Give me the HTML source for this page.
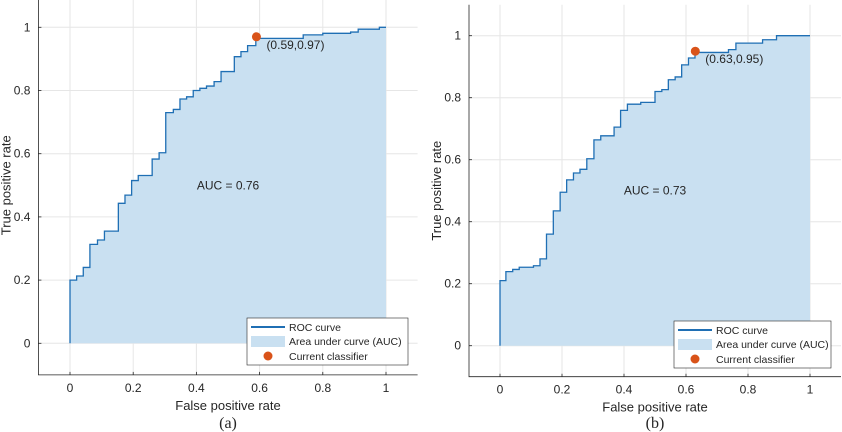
<!DOCTYPE html>
<html><head><meta charset="utf-8"><style>
html,body{margin:0;padding:0;background:#fff;width:842px;height:432px;overflow:hidden}
svg text{font-family:"Liberation Sans",sans-serif;fill:#262626}
</style></head><body>
<svg id="chart" width="842" height="432" viewBox="0 0 842 432" xmlns="http://www.w3.org/2000/svg"></svg>
<script>
// Panel (a) data: step points (fpr, tpr after jump)
const fprA = [0,0.021,0.042,0.063,0.087,0.109,0.153,0.174,0.195,0.216,0.26,0.282,0.303,0.327,0.348,0.369,0.39,0.411,0.432,0.456,0.478,0.52,0.541,0.562,0.588,0.738,0.80,0.888,0.912,0.979,1.0];
const tprA = [0.2,0.213,0.24,0.313,0.327,0.355,0.443,0.469,0.515,0.531,0.583,0.603,0.73,0.74,0.773,0.78,0.80,0.807,0.814,0.828,0.86,0.907,0.923,0.942,0.965,0.976,0.981,0.985,0.994,1.0,1.0];
const opA = [0.59,0.97];
const aucA = "0.76";
// Panel (b) data
const fprB = [0,0.019,0.041,0.062,0.108,0.129,0.15,0.172,0.194,0.215,0.237,0.258,0.28,0.303,0.325,0.368,0.389,0.411,0.454,0.5,0.522,0.543,0.565,0.586,0.608,0.629,0.737,0.761,0.847,0.892,1.0];
const tprB = [0.21,0.239,0.246,0.253,0.258,0.28,0.36,0.435,0.495,0.535,0.557,0.569,0.603,0.664,0.677,0.705,0.759,0.779,0.785,0.82,0.826,0.858,0.867,0.906,0.928,0.946,0.955,0.976,0.987,1.0,1.0];
const opB = [0.63,0.95];
const aucB = "0.73";
const ticks = [0,0.2,0.4,0.6,0.8,1];
const tickLabels = ["0","0.2","0.4","0.6","0.8","1"];

const NS="http://www.w3.org/2000/svg";
const svg=document.getElementById('chart');
function mk(tag,attrs,parent,text){const e=document.createElementNS(NS,tag);for(const k in attrs)e.setAttribute(k,attrs[k]);if(text!==undefined)e.textContent=text;(parent||svg).appendChild(e);return e;}

function panel(id,x0,y0,s,fpr,tpr,op,auc,cap,leg){
  const sx=v=>x0+v*s, sy=v=>y0-v*s;
  const g=mk('g',{});
  
  
  const L=sx(-0.1),R=sx(1.1),B=sy(-0.1),T=Math.max(sy(1.1),0);
  // grid
  ticks.forEach((t,i)=>{
    const gx=mk('line',{x1:sx(t),x2:sx(t),y1:T,y2:B,stroke:'#e6e6e6','stroke-width':1},g);
    
    const gy=mk('line',{x1:L,x2:R,y1:sy(t),y2:sy(t),stroke:'#e6e6e6','stroke-width':1},g);
    
  });
  // area + curve
  let d=`M${sx(0)},${sy(0)}`; let prevY=0;
  for(let i=0;i<fpr.length;i++){d+=` L${sx(fpr[i])},${sy(prevY)} L${sx(fpr[i])},${sy(tpr[i])}`;prevY=tpr[i];}
  const area=mk('path',{d:d+` L${sx(1)},${sy(0)} Z`,fill:'#c9e0f1',stroke:'none'},g);
  
  const line=mk('path',{d:d,fill:'none',stroke:'#1f6fb4','stroke-width':1.3},g);
  
  // axes
  const ax=mk('path',{d:`M${L},${T} L${L},${B} L${R},${B}`,fill:'none',stroke:'#262626','stroke-width':0.8},g);
  
  ticks.forEach((t,i)=>{
    mk('line',{x1:sx(t),x2:sx(t),y1:B,y2:B-3,stroke:'#262626','stroke-width':0.8},g);
    mk('line',{x1:L,x2:L+3,y1:sy(t),y2:sy(t),stroke:'#262626','stroke-width':0.8},g);
    const xl=mk('text',{x:sx(t),y:B+17,'text-anchor':'middle','font-size':12},g,tickLabels[i]);
    
    const yl=mk('text',{x:L-8,y:sy(t)+4,'text-anchor':'end','font-size':12},g,tickLabels[i]);
    
  });
  const xt=mk('text',{x:sx(0.5),y:B+35,'text-anchor':'middle','font-size':13},g,'False positive rate');
  
  const yc=sy(0.5);
  const yt=mk('text',{x:L-28,y:yc,'text-anchor':'middle','font-size':13,transform:`rotate(-90 ${L-28} ${yc})`},g,'True positive rate');
  
  const at=mk('text',{x:sx(0.5),y:sy(0.5)+4,'text-anchor':'middle','font-size':12},g,'AUC = '+auc);
  
  const pt=mk('circle',{cx:sx(op[0]),cy:sy(op[1]),r:4.5,fill:'#d95319'},g);
  
  const pl=mk('text',{x:sx(op[0])+10,y:sy(op[1])+12,'font-size':12},g,'('+op[0].toFixed(2)+','+op[1].toFixed(2)+')');
  
  // legend
  const lg=mk('g',{},g);
  
  mk('rect',{x:leg[0],y:leg[1],width:leg[2],height:47,fill:'#fff',stroke:'#262626','stroke-width':0.6},lg);
  const lx=leg[0]+4, tx=leg[0]+42;
  mk('line',{x1:lx,x2:lx+34,y1:leg[1]+9,y2:leg[1]+9,stroke:'#1f6fb4','stroke-width':2},lg);
  const e1=mk('text',{x:tx,y:leg[1]+13,'font-size':10.5},lg,'ROC curve');
  
  mk('rect',{x:lx,y:leg[1]+18,width:34,height:11,fill:'#c9e0f1'},lg);
  const e2=mk('text',{x:tx,y:leg[1]+27,'font-size':10.5},lg,'Area under curve (AUC)');
  
  mk('circle',{cx:lx+17,cy:leg[1]+38,r:4.5,fill:'#d95319'},lg);
  const e3=mk('text',{x:tx,y:leg[1]+42,'font-size':10.5},lg,'Current classifier');
  
  const c=mk('text',{x:sx(0.5),y:428,'text-anchor':'middle','font-size':16,style:'font-family:"Liberation Serif",serif'},g,cap);
  
}
panel('a',70,343.3,316,fprA,tprA,opA,aucA,'(a)',[247,318,161]);
panel('b',500,345.7,310,fprB,tprB,opB,aucB,'(b)',[674,321,157]);
</script>
</body></html>
